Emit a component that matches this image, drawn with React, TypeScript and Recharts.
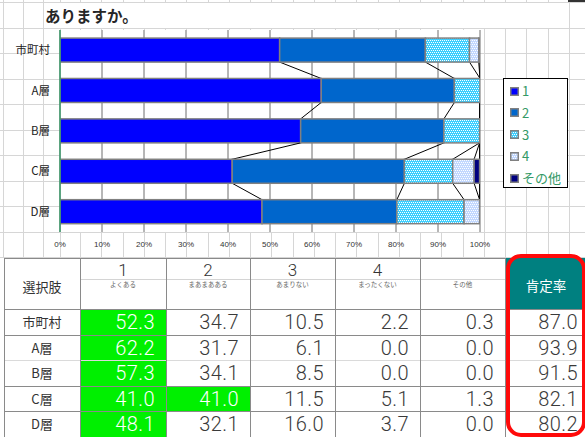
import React from 'react';
import { BarChart, Bar, XAxis, YAxis, CartesianGrid } from 'recharts';

// ---- data ----
const categories = ['市町村', 'A層', 'B層', 'C層', 'D層'];
const answer1 = [52.3, 62.2, 57.3, 41.0, 48.1];
const answer2 = [34.7, 31.7, 34.1, 41.0, 32.1];
const answer3 = [10.5, 6.1, 8.5, 11.5, 16.0];
const answer4 = [2.2, 0.0, 0.0, 5.1, 3.7];
const answerOther = [0.3, 0.0, 0.0, 1.3, 0.0];
const positiveRate = [87.0, 93.9, 91.5, 82.1, 80.2];

const legendNames = ['1', '2', '3', '4', 'その他'];
const choiceNumbers = ['1', '2', '3', '4', ''];
const choiceNames = ['よくある', 'まあまあある', 'あまりない', 'まったくない', 'その他'];
const percentTicks = [0, 10, 20, 30, 40, 50, 60, 70, 80, 90, 100];
const title = 'ありますか。';
const HIGHLIGHT_FROM = 40;

const seriesValues = [answer1, answer2, answer3, answer4, answerOther];
const seriesKeys = ['v1', 'v2', 'v3', 'v4', 'v5'];
const seriesFills = ['#0000ff', '#0066cc', 'url(#dotsCyan)', 'url(#dotsPale)', '#000080'];

const chartData = categories.map((name, i) => {
  const row: Record<string, number | string> = { name };
  seriesKeys.forEach((k, s) => {
    row[k] = seriesValues[s][i];
  });
  return row;
});

// running totals per series, used for the series lines between bars
const cumulative = seriesValues.map((_, s) =>
  categories.map((__, i) => seriesValues.slice(0, s + 1).reduce((a, arr) => a + arr[i], 0))
);

// ---- layout ----
const W = 585;
const H = 437;
const CHART_W = 500;
const CHART_H = 260;
const M_TOP = 30;
const X_AXIS_H = 28;
const PLOT_H = CHART_H - M_TOP - X_AXIS_H;
const BAND = PLOT_H / categories.length;

const GRID_X = [3, 23, 43, 60, ...Array.from({ length: 24 }, (_, k) => 80 + 21.25 * k)];
const GRID_Y = Array.from({ length: 11 }, (_, k) => 2 + 25.5 * k);

const COL_X = [4, 80, 166, 250, 335, 420, 505, 585];
const ROW_Y = [258, 309, 334.5, 360, 385.5, 411, 436.5];
const ROW_LINE_COLORS = ['#8a8a8a', '#dadada', '#8a8a8a', '#8a8a8a'];

const CJK = "'Noto Sans CJK JP', 'Noto Sans', sans-serif";
const LATIN = "'Liberation Sans', Arial, 'Noto Sans CJK JP', sans-serif";
const NUM = "Roboto, 'Open Sans', 'Noto Sans', sans-serif";
const GREEN_TEXT = '#339966';

// dotted fills for answers 3 and 4
const dotTile = (id: string, base: string) => (
  <pattern id={id} x={0} y={0} width={4} height={4} patternUnits="userSpaceOnUse">
    <rect x={0} y={0} width={4} height={4} fill={base} />
    <rect x={0} y={0} width={1} height={1} fill="#ffffff" />
    <rect x={2} y={0} width={1} height={1} fill="#ffffff" />
    <rect x={1} y={2} width={1} height={1} fill="#ffffff" />
    <rect x={3} y={2} width={1} height={1} fill="#ffffff" />
  </pattern>
);

const PatternDefs = () => (
  <defs>
    {dotTile('dotsCyan', '#3ccfff')}
    {dotTile('dotsPale', '#c2d8ff')}
  </defs>
);

const Segment = (p: any) => {
  const { x, y, width, height, fill } = p;
  if (!(width > 0)) return null;
  return <rect x={x} y={y} width={width} height={height} fill={fill} stroke="#808080" strokeWidth={1.5} />;
};

// first segment of each bar also draws the series lines to the next bar
const SegmentWithSeriesLines = (p: any) => {
  const { x, y, width, height, index } = p;
  const span = (width * 100) / answer1[index];
  const toX = (v: number) => x + (v / 100) * span;
  const lines: React.ReactNode[] = [];
  if (index < categories.length - 1) {
    cumulative.forEach((cum, s) => {
      lines.push(
        <line
          key={s}
          x1={toX(cum[index])}
          y1={y + height}
          x2={toX(cum[index + 1])}
          y2={y + BAND}
          stroke="#000"
          strokeWidth={1}
        />
      );
    });
  }
  return (
    <g>
      <Segment {...p} />
      {lines}
    </g>
  );
};

const Marker = ({ fill }: { fill: string }) => (
  <svg width={9} height={9} style={{ display: 'block' }}>
    <rect x={0.75} y={0.75} width={7.5} height={7.5} fill={fill} stroke="#808080" strokeWidth={1.5} />
  </svg>
);

function Legend() {
  return (
    <div
      style={{
        position: 'absolute',
        left: 503,
        top: 78,
        width: 65,
        height: 110,
        boxSizing: 'border-box',
        border: '1px solid #000',
        background: '#fff',
      }}
    >
      {legendNames.map((n, i) => (
        <div
          key={n}
          style={{
            position: 'absolute',
            left: 6,
            top: 12 + 21.8 * i - 9,
            height: 18,
            display: 'flex',
            alignItems: 'center',
            gap: 3,
            color: GREEN_TEXT,
            fontFamily: CJK,
            fontSize: 13,
            lineHeight: '18px',
            whiteSpace: 'nowrap',
          }}
        >
          <Marker fill={seriesFills[i]} />
          <span>{n}</span>
        </div>
      ))}
    </div>
  );
}

function DataTable() {
  const nodes: React.ReactNode[] = [];
  const hTop = ROW_Y[0];
  const hBottom = ROW_Y[1];

  nodes.push(
    <div
      key="h0"
      style={{
        position: 'absolute',
        left: COL_X[0],
        top: hTop + 3,
        width: COL_X[1] - COL_X[0],
        height: hBottom - hTop,
        display: 'flex',
        alignItems: 'center',
        justifyContent: 'center',
        fontFamily: CJK,
        fontSize: 13,
        color: '#333',
      }}
    >
      選択肢
    </div>
  );
  choiceNames.forEach((name, c) => {
    const left = COL_X[c + 1];
    const w = COL_X[c + 2] - left;
    nodes.push(
      <div
        key={'hn' + c}
        style={{
          position: 'absolute',
          left,
          top: hTop + 1,
          width: w,
          height: 20,
          textAlign: 'center',
          fontFamily: NUM,
          fontWeight: 300,
          fontSize: 17,
          lineHeight: '22px',
          color: '#333',
        }}
      >
        {choiceNumbers[c]}
      </div>
    );
    nodes.push(
      <div
        key={'hs' + c}
        style={{
          position: 'absolute',
          left,
          top: 280,
          width: w,
          height: 8,
          textAlign: 'center',
          fontFamily: CJK,
          fontSize: 6.5,
          lineHeight: '8px',
          color: '#666',
        }}
      >
        {name}
      </div>
    );
  });
  nodes.push(
    <div
      key="hp"
      style={{
        position: 'absolute',
        left: COL_X[6] + 1,
        top: hTop,
        width: COL_X[7] - COL_X[6],
        height: hBottom - hTop,
        background: '#008080',
        display: 'flex',
        alignItems: 'center',
        justifyContent: 'center',
        paddingTop: 3,
        boxSizing: 'border-box',
        fontFamily: CJK,
        fontSize: 13.5,
        color: '#fff',
      }}
    >
      肯定率
    </div>
  );

  categories.forEach((cat, r) => {
    const top = ROW_Y[r + 1];
    const h = ROW_Y[r + 2] - top;
    nodes.push(
      <div
        key={'rl' + r}
        style={{
          position: 'absolute',
          left: COL_X[0],
          top,
          width: COL_X[1] - COL_X[0],
          height: h,
          display: 'flex',
          alignItems: 'center',
          justifyContent: 'center',
          fontFamily: CJK,
          fontSize: 13,
          color: '#333',
        }}
      >
        {cat}
      </div>
    );
    seriesValues.forEach((vals, c) => {
      const v = vals[r];
      const hi = v >= HIGHLIGHT_FROM;
      const left = COL_X[c + 1];
      nodes.push(
        <div
          key={'c' + r + '-' + c}
          style={{
            position: 'absolute',
            left: left + 1,
            top: top + 1,
            width: COL_X[c + 2] - left - 1,
            height: h - 1,
            background: hi ? '#00f000' : 'transparent',
            boxSizing: 'border-box',
            paddingRight: 11,
            textAlign: 'right',
            fontFamily: NUM,
            fontWeight: 300,
            fontSize: 20,
            letterSpacing: 0.4,
            lineHeight: h - 1 + 'px',
            color: hi ? '#fff' : '#3a3a3a',
          }}
        >
          {v.toFixed(1)}
        </div>
      );
    });
    nodes.push(
      <div
        key={'p' + r}
        style={{
          position: 'absolute',
          left: COL_X[6] + 1,
          top: top + 1,
          width: COL_X[7] - COL_X[6] - 1,
          height: h - 1,
          boxSizing: 'border-box',
          paddingRight: 7,
          textAlign: 'right',
          fontFamily: NUM,
          fontWeight: 300,
          fontSize: 20,
          letterSpacing: 0.4,
          lineHeight: h - 1 + 'px',
          color: '#3a3a3a',
        }}
      >
        {positiveRate[r].toFixed(1)}
      </div>
    );
  });

  const lines: React.ReactNode[] = [];
  lines.push(<line key="top" x1={COL_X[0]} y1={hTop + 0.5} x2={COL_X[6]} y2={hTop + 0.5} stroke="#8a8a8a" />);
  lines.push(<line key="hin" x1={COL_X[1]} y1={279.5} x2={COL_X[6]} y2={279.5} stroke="#d4d4d4" />);
  lines.push(<line key="hb" x1={COL_X[0]} y1={hBottom + 0.5} x2={COL_X[7]} y2={hBottom + 0.5} stroke="#8a8a8a" />);
  ROW_LINE_COLORS.forEach((col, k) => {
    const yy = Math.round(ROW_Y[k + 2]) + 0.5;
    lines.push(<line key={'r' + k} x1={COL_X[0]} y1={yy} x2={COL_X[7]} y2={yy} stroke={col} />);
  });
  COL_X.slice(0, 7).forEach((xx, k) => {
    lines.push(<line key={'v' + k} x1={xx + 0.5} y1={hTop} x2={xx + 0.5} y2={H} stroke="#8a8a8a" />);
  });

  return (
    <div style={{ position: 'absolute', left: 0, top: hTop, width: W, height: H - hTop, background: '#fff' }}>
      <div style={{ position: 'absolute', left: 0, top: -hTop, width: W, height: H }}>
        {nodes}
        <svg width={W} height={H} style={{ position: 'absolute', left: 0, top: 0 }}>
          {lines}
        </svg>
        <div
          style={{
            position: 'absolute',
            left: 506,
            top: 254,
            width: 80,
            height: 183,
            boxSizing: 'border-box',
            border: '4px solid #ff0a0a',
            borderRadius: 15,
          }}
        />
      </div>
    </div>
  );
}

export default function App() {
  return (
    <div
      style={{
        position: 'absolute',
        left: 0,
        top: 0,
        width: W,
        height: H,
        overflow: 'hidden',
        background: '#fff',
      }}
    >
      {/* sheet grid */}
      <svg width={W} height={H} style={{ position: 'absolute', left: 0, top: 0 }}>
        {GRID_X.map((x) => (
          <line key={'gx' + x} x1={Math.round(x) + 0.5} y1={0} x2={Math.round(x) + 0.5} y2={H} stroke="#d6d6d6" />
        ))}
        {GRID_Y.map((y) => (
          <line key={'gy' + y} x1={0} y1={Math.round(y) + 0.5} x2={W} y2={Math.round(y) + 0.5} stroke="#d6d6d6" />
        ))}
        <rect x={44} y={3} width={524} height={25} fill="#fff" />
        <rect x={568} y={0} width={17} height={2} fill="#333" />
      </svg>

      <div
        style={{
          position: 'absolute',
          left: 45,
          top: 4,
          height: 22,
          lineHeight: '22px',
          fontFamily: CJK,
          fontWeight: 700,
          fontSize: 15.5,
          color: '#262626',
          whiteSpace: 'nowrap',
        }}
      >
        {title}
      </div>

      <div style={{ position: 'absolute', left: 0, top: 0 }}>
        <BarChart
          width={CHART_W}
          height={CHART_H}
          data={chartData}
          layout="vertical"
          margin={{ top: M_TOP, right: 20, bottom: 0, left: 0 }}
          barCategoryGap="20%"
          style={{ fontFamily: LATIN }}
        >
          <PatternDefs />
          <CartesianGrid horizontal={false} vertical stroke="#6e6e6e" fill="#ffffff" />
          <XAxis
            type="number"
            domain={[0, 100]}
            ticks={percentTicks}
            allowDataOverflow
            tickFormatter={(v: number) => v + '%'}
            axisLine={false}
            tickLine={false}
            tickSize={6}
            tickMargin={3}
            height={X_AXIS_H}
            interval={0}
            tick={{ fontSize: 8, fill: '#333' }}
          />
          <XAxis
            xAxisId="top"
            orientation="top"
            type="number"
            domain={[0, 100]}
            height={0}
            tick={false}
            tickLine={false}
            axisLine={{ stroke: '#3c9c6c', strokeWidth: 1.5 }}
          />
          <YAxis
            type="category"
            dataKey="name"
            width={60}
            axisLine={{ stroke: '#3c9c6c', strokeWidth: 1.5 }}
            tickLine={false}
            tickSize={6}
            tickMargin={4}
            tick={{ fontSize: 11.5, fill: '#222', fontFamily: CJK }}
          />
          {seriesKeys.map((k, s) => (
            <Bar
              key={k}
              dataKey={k}
              stackId="all"
              fill={seriesFills[s]}
              isAnimationActive={false}
              shape={s === 0 ? SegmentWithSeriesLines : Segment}
            />
          ))}
        </BarChart>
      </div>

      <Legend />
      <DataTable />
    </div>
  );
}
